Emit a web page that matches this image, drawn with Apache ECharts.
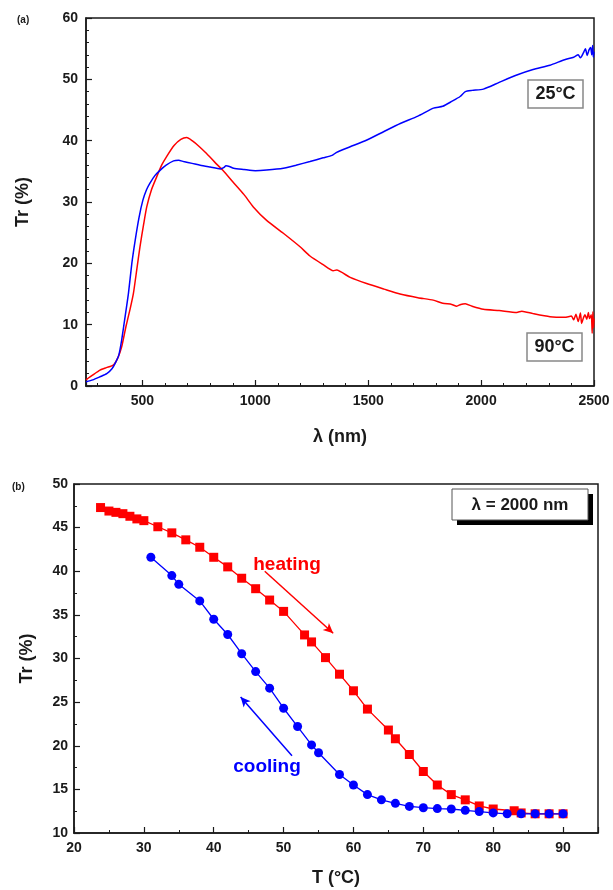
<!DOCTYPE html>
<html>
<head>
<meta charset="utf-8">
<script src="https://cdn.jsdelivr.net/npm/echarts@6/dist/echarts.min.js"></script>
<style>
  html, body { margin: 0; padding: 0; background: #fff; }
  #main { width: 613px; height: 890px; }
</style>
</head>
<body>
<div id="main"></div>
<script>
// (a) spectra: wavelength (nm) vs transmittance (%)
var wl25 = [250, 280, 312, 342, 365, 379, 395, 408, 420, 438, 453, 468, 485, 502, 518, 534, 555, 579, 605, 638, 660, 682, 720, 756, 800, 845, 860, 870, 885, 904, 950, 1000, 1050, 1124, 1180, 1242, 1300, 1340, 1360, 1420, 1494, 1570, 1642, 1720, 1789, 1830, 1870, 1907, 1930, 1960, 2010, 2080, 2158, 2230, 2305, 2370, 2410, 2430, 2440, 2453, 2462, 2470, 2478, 2485, 2490, 2494, 2497, 2500];
var tr25 = [0.7, 1.0, 1.5, 2.0, 2.8, 3.7, 5.0, 7.5, 10.5, 15.1, 20.0, 23.8, 27.5, 30.3, 32.0, 33.1, 34.3, 35.2, 36.0, 36.7, 36.8, 36.6, 36.3, 36.0, 35.7, 35.4, 35.6, 35.9, 35.8, 35.5, 35.3, 35.1, 35.2, 35.5, 36.0, 36.6, 37.2, 37.6, 38.1, 39.0, 40.1, 41.5, 42.8, 44.0, 45.3, 45.6, 46.4, 47.2, 48.0, 48.2, 48.4, 49.5, 50.7, 51.6, 52.3, 53.2, 53.6, 54.0, 53.5, 54.3, 55.0, 53.9, 54.8, 55.2, 54.0, 55.5, 53.6, 54.5];

var wl90 = [250, 280, 312, 340, 371, 390, 408, 427, 445, 460, 475, 489, 505, 519, 540, 563, 585, 607, 640, 670, 696, 720, 750, 784, 820, 858, 900, 950, 991, 1050, 1124, 1198, 1242, 1300, 1345, 1360, 1420, 1493, 1570, 1641, 1720, 1788, 1830, 1870, 1892, 1910, 1930, 1960, 2010, 2080, 2158, 2180, 2230, 2305, 2370, 2400, 2410, 2420, 2430, 2440, 2445, 2453, 2460, 2468, 2475, 2480, 2488, 2492, 2495, 2498, 2500];
var tr90 = [1.0, 1.8, 2.6, 3.0, 3.4, 4.5, 6.4, 9.7, 12.5, 15.1, 19.0, 22.7, 26.3, 29.2, 32.0, 34.1, 36.0, 37.4, 39.2, 40.2, 40.5, 40.0, 39.1, 37.9, 36.5, 35.1, 33.3, 31.2, 29.2, 27.0, 24.9, 22.7, 21.2, 19.8, 18.8, 18.9, 17.7, 16.7, 15.8, 15.0, 14.4, 14.0, 13.5, 13.3, 13.0, 13.3, 13.4, 13.0, 12.5, 12.3, 12.0, 12.2, 11.8, 11.3, 11.2, 11.4, 10.8, 11.7, 10.5, 11.9, 10.2, 11.1, 11.6, 10.9, 12.0, 11.0, 11.6, 8.6, 12.1, 9.5, 11.0];

// (b) transmittance at 2000 nm vs temperature
var heatT = [23.8, 25, 26, 27, 28, 29, 30, 32, 34, 36, 38, 40, 42, 44, 46, 48, 50, 53, 54, 56, 58, 60, 62, 65, 66, 68, 70, 72, 74, 76, 78, 80, 83, 84, 86, 88, 90];
var heatTr = [47.3, 46.9, 46.75, 46.6, 46.3, 46.0, 45.8, 45.1, 44.4, 43.6, 42.75, 41.6, 40.5, 39.2, 38.0, 36.7, 35.4, 32.7, 31.9, 30.1, 28.2, 26.3, 24.2, 21.8, 20.8, 19.0, 17.05, 15.5, 14.4, 13.8, 13.1, 12.75, 12.55, 12.3, 12.2, 12.2, 12.2];
var coolT = [31, 34, 35, 38, 40, 42, 44, 46, 48, 50, 52, 54, 55, 58, 60, 62, 64, 66, 68, 70, 72, 74, 76, 78, 80, 82, 84, 86, 88, 90];
var coolTr = [41.6, 39.5, 38.5, 36.6, 34.5, 32.75, 30.55, 28.5, 26.6, 24.3, 22.2, 20.1, 19.2, 16.7, 15.5, 14.4, 13.8, 13.4, 13.05, 12.9, 12.8, 12.75, 12.6, 12.45, 12.3, 12.2, 12.2, 12.2, 12.2, 12.2];

// arrow annotations [from, to] in data units
var heatArrow = [[47.3, 40.0], [57.1, 32.9]];
var coolArrow = [[51.2, 18.85], [43.85, 25.6]];

function pairs(xs, ys) {
  return xs.map(function (x, i) { return [x, ys[i]]; });
}

var FONT = "'Liberation Sans', Arial, sans-serif";
var RED = "#ff0000";
var BLUE = "#0000ff";
var INK = "#1a1a1a";

function plain(v) { return String(v); }

function valueAxis(extra) {
  var base = {
    type: "value",
    axisLine: { show: true, lineStyle: { color: INK, width: 1.5 } },
    axisTick: { show: true, inside: true, length: 6, lineStyle: { color: INK, width: 1.2 } },
    minorTick: { show: true, length: 3, lineStyle: { color: INK, width: 1 } },
    splitLine: { show: false },
    axisLabel: { color: INK, fontFamily: FONT, fontWeight: "bold", fontSize: 14, margin: 8, formatter: plain },
    nameLocation: "middle",
    nameTextStyle: { color: INK, fontFamily: FONT, fontWeight: "bold", fontSize: 18 }
  };
  return Object.assign(base, extra);
}

var myChart = echarts.init(document.getElementById("main"));

var option = {
  animation: false,
  backgroundColor: "#fff",
  grid: [
    { left: 86, top: 18, width: 508, height: 368, show: true, borderColor: INK, borderWidth: 1.5, backgroundColor: "transparent" },
    { left: 74, top: 484, width: 524, height: 349, show: true, borderColor: INK, borderWidth: 1.5, backgroundColor: "transparent" }
  ],
  xAxis: [
    valueAxis({
      gridIndex: 0, min: 250, max: 2500,
      name: "λ (nm)", nameGap: 42,
      minorTick: { show: true, splitNumber: 5, length: 3, lineStyle: { color: INK, width: 1 } },
      axisLabel: { color: INK, fontFamily: FONT, fontWeight: "bold", fontSize: 14, margin: 8, showMinLabel: false, formatter: plain }
    }),
    valueAxis({
      gridIndex: 1, min: 20, max: 95, interval: 10,
      name: "T (°C)", nameGap: 36,
      minorTick: { show: true, splitNumber: 2, length: 3, lineStyle: { color: INK, width: 1 } },
      axisLabel: { color: INK, fontFamily: FONT, fontWeight: "bold", fontSize: 14, margin: 8, showMaxLabel: false, formatter: plain }
    })
  ],
  yAxis: [
    valueAxis({
      gridIndex: 0, min: 0, max: 60, interval: 10,
      name: "Tr (%)", nameGap: 54,
      minorTick: { show: true, splitNumber: 5, length: 3, lineStyle: { color: INK, width: 1 } }
    }),
    valueAxis({
      gridIndex: 1, min: 10, max: 50, interval: 5,
      name: "Tr (%)", nameGap: 38,
      minorTick: { show: true, splitNumber: 2, length: 3, lineStyle: { color: INK, width: 1 } },
      axisLabel: { color: INK, fontFamily: FONT, fontWeight: "bold", fontSize: 14, margin: 6, formatter: plain }
    })
  ],
  series: [
    {
      name: "90°C", type: "line", xAxisIndex: 0, yAxisIndex: 0,
      data: pairs(wl90, tr90), showSymbol: false, smooth: 0.2,
      lineStyle: { color: RED, width: 1.5 }
    },
    {
      name: "25°C", type: "line", xAxisIndex: 0, yAxisIndex: 0,
      data: pairs(wl25, tr25), showSymbol: false, smooth: 0.2,
      lineStyle: { color: BLUE, width: 1.5 }
    },
    {
      name: "heating", type: "line", xAxisIndex: 1, yAxisIndex: 1,
      data: pairs(heatT, heatTr), symbol: "rect", symbolSize: 9,
      itemStyle: { color: RED }, lineStyle: { color: RED, width: 1.3 },
      markLine: {
        silent: true, symbol: ["none", "arrow"], symbolSize: [7, 10],
        label: { show: false },
        lineStyle: { color: RED, width: 1.5, type: "solid" },
        data: [[{ coord: heatArrow[0] }, { coord: heatArrow[1] }]]
      }
    },
    {
      name: "cooling", type: "line", xAxisIndex: 1, yAxisIndex: 1,
      data: pairs(coolT, coolTr), symbol: "circle", symbolSize: 9,
      itemStyle: { color: BLUE }, lineStyle: { color: BLUE, width: 1.3 },
      markLine: {
        silent: true, symbol: ["none", "arrow"], symbolSize: [7, 10],
        label: { show: false },
        lineStyle: { color: BLUE, width: 1.5, type: "solid" },
        data: [[{ coord: coolArrow[0] }, { coord: coolArrow[1] }]]
      }
    }
  ],
  graphic: [
    { type: "text", left: 17, top: 15, style: { text: "(a)", font: "bold 10px " + FONT, fill: INK } },
    { type: "text", left: 12, top: 482, style: { text: "(b)", font: "bold 10px " + FONT, fill: INK } },
    // 25°C label box
    { type: "rect", shape: { x: 528, y: 80, width: 55, height: 28 }, style: { fill: "#fff", stroke: "#888", lineWidth: 1.5 } },
    { type: "text", x: 555.5, y: 94, style: { text: "25°C", font: "bold 18px " + FONT, fill: INK, align: "center", verticalAlign: "middle" } },
    // 90°C label box
    { type: "rect", shape: { x: 527, y: 333, width: 55, height: 28 }, style: { fill: "#fff", stroke: "#888", lineWidth: 1.5 } },
    { type: "text", x: 554.5, y: 347, style: { text: "90°C", font: "bold 18px " + FONT, fill: INK, align: "center", verticalAlign: "middle" } },
    // λ box with shadow
    { type: "rect", shape: { x: 457, y: 494, width: 136, height: 31 }, style: { fill: "#000" } },
    { type: "rect", shape: { x: 452, y: 489, width: 136, height: 31 }, style: { fill: "#fff", stroke: "#555", lineWidth: 1 } },
    { type: "text", x: 520, y: 505, style: { text: "λ = 2000 nm", font: "bold 17px " + FONT, fill: INK, align: "center", verticalAlign: "middle" } },
    { type: "text", x: 287, y: 565, style: { text: "heating", font: "bold 19px " + FONT, fill: RED, align: "center", verticalAlign: "middle" } },
    { type: "text", x: 267, y: 767, style: { text: "cooling", font: "bold 19px " + FONT, fill: BLUE, align: "center", verticalAlign: "middle" } }
  ]
};

myChart.setOption(option);
</script>
</body>
</html>
